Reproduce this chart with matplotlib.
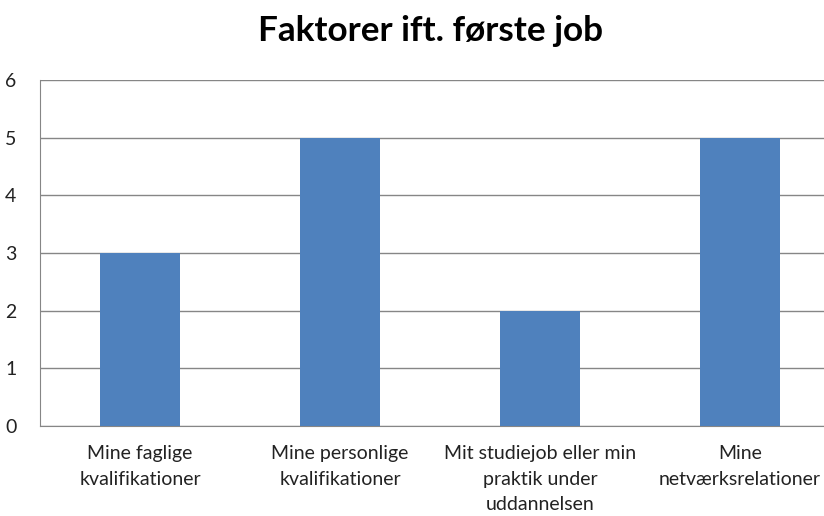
import matplotlib
matplotlib.use("Agg")
from matplotlib import pyplot as plt

# data
categories = [
    "Mine faglige\nkvalifikationer",
    "Mine personlige\nkvalifikationer",
    "Mit studiejob eller min\npraktik under\nuddannelsen",
    "Mine\nnetværksrelationer",
]
values = [3, 5, 2, 5]
y_ticks = [0, 1, 2, 3, 4, 5, 6]

plt.rcParams['font.family'] = ['Lato', 'DejaVu Sans']

fig = plt.figure(figsize=(8.24, 5.16), dpi=100)
ax = fig.add_axes([40 / 824, 90 / 516, 800 / 824, 346 / 516])

x = range(len(categories))
ax.bar(x, values, width=0.4, color="#4F81BD", zorder=3)

ax.set_xlim(-0.5, 3.5)
ax.set_ylim(0, 6)
ax.set_yticks(y_ticks)
ax.set_xticks(list(x))
ax.set_xticklabels(categories, fontsize=14, color="#222222", linespacing=1.58)
ax.tick_params(axis="y", length=0, pad=17, labelsize=14, labelcolor="#222222")
ax.tick_params(axis="x", length=0, pad=14)

ax.yaxis.grid(True, color="#868686", linewidth=1, zorder=0)
for side in ("top", "right"):
    ax.spines[side].set_visible(False)
for side in ("left", "bottom"):
    ax.spines[side].set_color("#868686")

fig.text(430 / 824, 1 - 31 / 516, "Faktorer ift. første job", ha="center", va="center",
         fontsize=25.3, fontweight="bold", color="black")

fig.savefig("out.png", dpi=100)
